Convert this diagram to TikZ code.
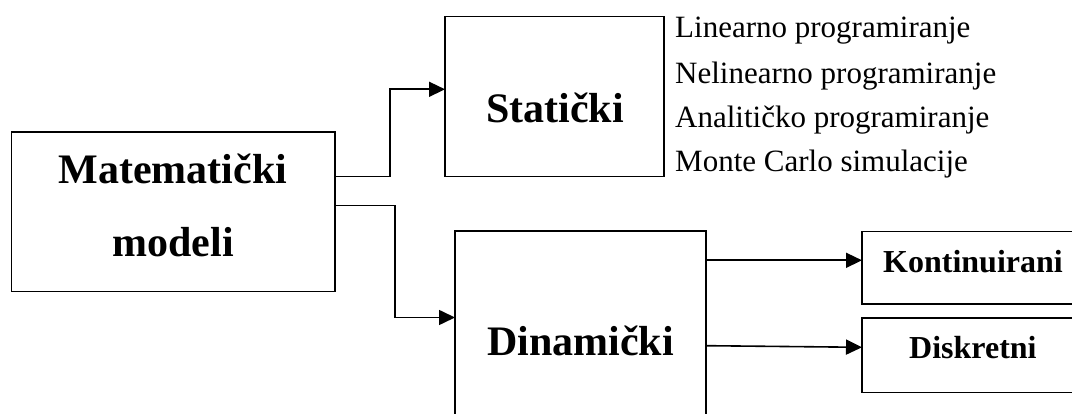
\documentclass[tikz,border=0pt]{standalone}
\usepackage{fontspec}
\setmainfont{Liberation Serif}
\usetikzlibrary{arrows.meta}
\tikzset{
  box/.style={draw, line width=1.6pt, inner sep=0pt, outer sep=0pt, rectangle},
  arr/.style={line width=1.6pt, -{Triangle[length=16pt,width=15pt]}},
  bigtxt/.style={anchor=base, inner sep=0pt, font=\fontsize{42}{50}\selectfont\bfseries},
  smalltxt/.style={anchor=base west, inner sep=0pt, font=\fontsize{32}{38}\selectfont\bfseries},
  listtxt/.style={anchor=base west, inner sep=0pt, font=\fontsize{31}{37}\selectfont},
}
\begin{document}
\begin{tikzpicture}[x=1pt,y=1pt]
\useasboundingbox (0,0) rectangle (1072,414);
\fill[white] (0,0) rectangle (1072,414);
\clip (0,0) rectangle (1072,414);
% boxes
\node[box, minimum width=323.5pt, minimum height=159.5pt] (mat) at (173.25,202.25) {};
\node[box, minimum width=219pt, minimum height=160.2pt] (sta) at (554.5,317.4) {};
\node[box, minimum width=251pt, minimum height=209pt] (din) at (580.5,78.5) {};
\node[box, minimum width=238pt, minimum height=72.6pt] (kon) at (981,146) {};
\node[box, minimum width=238pt, minimum height=74.4pt] (dis) at (981,58.5) {};
% texts
\node[bigtxt] (matA) at (173,230.7) {Matematički};
\node[bigtxt] (matB) at (173,157.3) {modeli};
\node[bigtxt] (staT) at (555,291.3) {Statički};
\node[bigtxt] (dinT) at (580.5,58) {Dinamički};
\node[smalltxt] (konT) at (883,141.3) {Kontinuirani};
\node[smalltxt] (disT) at (909,55.7) {Diskretni};
\node[listtxt] (l1) at (675,376.3) {Linearno programiranje};
\node[listtxt] (l2) at (675,330.7) {Nelinearno programiranje};
\node[listtxt] (l3) at (675,286.3) {Analitičko programiranje};
\node[listtxt] (l4) at (675,242.3) {Monte Carlo simulacije};
% connectors
\coordinate (j1) at (390,324.7);
\coordinate (j2) at (395,96.5);
\coordinate (s2) at (335,208.5);
\coordinate (k1) at (706,153.7);
\coordinate (d1) at (706,68.3);
\coordinate (d2) at (862,66.7);
\draw[arr] (mat.east |- sta.south) -| (j1) -- (sta.west |- j1);
\draw[arr] (mat.east |- s2) -| (j2) -- (din.west |- j2);
\draw[arr] (din.east |- k1) -- (kon.west |- k1);
\draw[arr] (din.east |- d1) -- (dis.west |- d2);
\end{tikzpicture}
\end{document}
